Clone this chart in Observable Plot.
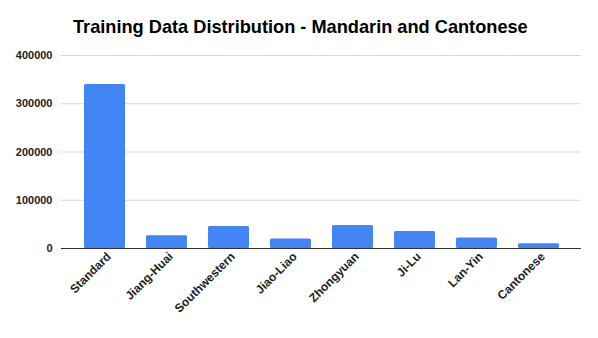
<!DOCTYPE html>
<html>
<head>
<meta charset="utf-8">
<script src="https://cdn.jsdelivr.net/npm/d3@7"></script>
<script src="https://cdn.jsdelivr.net/npm/@observablehq/plot@0.6"></script>
<style>
  html, body { margin: 0; padding: 0; background: #fff; }
  #wrap { position: relative; width: 598px; height: 338px; overflow: hidden; }
  #title { position: absolute; left: 73px; top: 17px; font-family: "Liberation Sans", Arial, sans-serif; font-weight: bold; font-size: 18.2px; color: #000; white-space: nowrap; }
  svg { display: block; }
</style>
</head>
<body>
<div id="wrap">
  <div id="chart"></div>
  <div id="title">Training Data Distribution - Mandarin and Cantonese</div>
</div>
<script>
const categories = ["Standard", "Jiang-Huai", "Southwestern", "Jiao-Liao", "Zhongyuan", "Ji-Lu", "Lan-Yin", "Cantonese"];
const values = [340000, 26400, 45700, 19500, 47800, 35300, 21600, 9800];
const yTicks = [0, 100000, 200000, 300000, 400000];

const data = categories.map((c, i) => ({category: c, value: values[i]}));

const chart = Plot.plot({
  width: 598,
  height: 338,
  marginLeft: 61,
  marginRight: 17,
  marginTop: 55,
  marginBottom: 90,
  style: {fontFamily: "'Liberation Sans', Arial, sans-serif", background: "#fff"},
  x: {domain: categories, padding: 0.345, label: null, tickSize: 0},
  y: {domain: [0, 400000], ticks: yTicks, label: null, tickSize: 0, grid: false},
  marks: [
    Plot.ruleY(yTicks.filter(d => d > 0), {stroke: "#d9d9d9", strokeWidth: 1}),
    Plot.barY(data, {x: "category", y: "value", fill: "#4285F4", rx: 1.5}),
    Plot.ruleY([0], {stroke: "#333", strokeWidth: 1}),
    Plot.axisY({ticks: yTicks, tickSize: 0, tickPadding: 9, tickFormat: d => String(d), fontSize: 11, fontWeight: "bold", fill: "#222", label: null}),
    Plot.axisX({tickSize: 0, tickPadding: 6, dx: 4, tickRotate: -45, fontSize: 12, fontWeight: "bold", fill: "#222", label: null})
  ]
});
document.getElementById("chart").appendChild(chart);
</script>
</body>
</html>
